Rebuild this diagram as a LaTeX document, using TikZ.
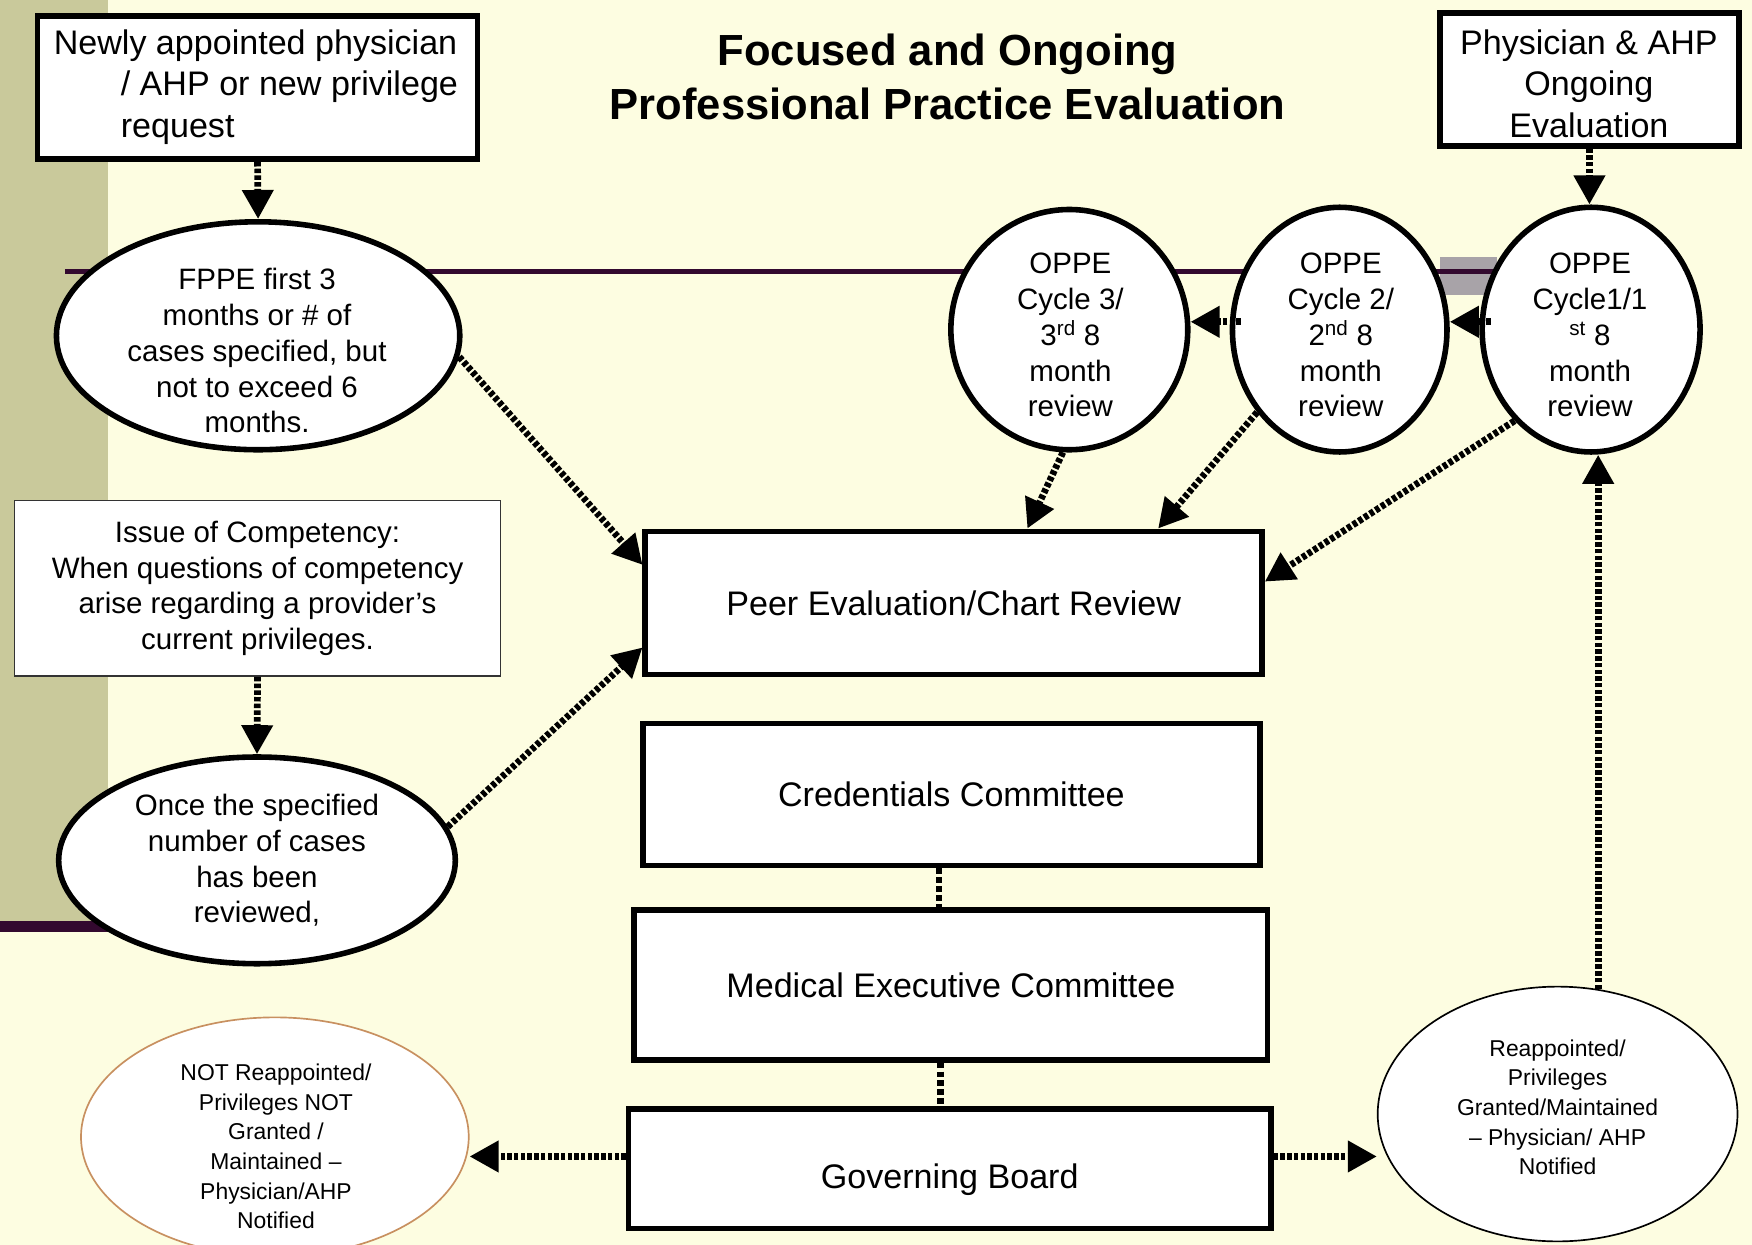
\documentclass[tikz,border=0pt]{standalone}
\usepackage{fontspec}
\setmainfont{Liberation Sans}
\usetikzlibrary{arrows.meta,shapes.geometric}
\definecolor{bgcream}{HTML}{FDFDE1}
\definecolor{olivestrip}{HTML}{C9C99B}
\definecolor{purpline}{HTML}{33092F}
\definecolor{greybar}{HTML}{A8A3A8}
\definecolor{orangeline}{HTML}{C89060}
\newcommand{\fsz}[2]{\fontsize{#1}{#2}\selectfont}
\begin{document}
\begin{tikzpicture}[x=1pt,y=-1pt,
  bbox/.style={rectangle,draw=black,line width=5pt,fill=white,inner sep=0pt},
  thinbox/.style={rectangle,draw=black!80,line width=1.6pt,fill=white,inner sep=0pt},
  bell/.style={ellipse,draw=black,line width=5pt,fill=white,inner sep=0pt},
  txt/.style={align=center,inner sep=0pt},
  fa/.style={font=\fsz{26.4}{32}},
  fb/.style={font=\fsz{30.5}{37}},
  fc/.style={font=\fsz{20.5}{26.5}},
  dotarrow/.style={line width=6pt,dash pattern=on 4pt off 2pt,-{Triangle[length=26pt,width=27pt]}},
  dotlink/.style={line width=6pt,dash pattern=on 5pt off 3pt}
]
\useasboundingbox (0,0) rectangle (1568,1114);
\fill[bgcream] (0,0) rectangle (1568,1114);
\fill[olivestrip] (0,0) rectangle (97,826);
\fill[purpline] (0,824) rectangle (235,834);
\fill[greybar] (1289,230) rectangle (1340,264);
\draw[purpline,line width=5pt] (58,243) -- (1340,243);

% title
\node[txt,font=\bfseries\fsz{39}{48}] (title) at (848,69) {Focused and Ongoing\\Professional Practice Evaluation};

% top-left box
\node[bbox,minimum width=394pt,minimum height=128pt] (newreq) at (230.5,78.5) {};
\node[txt,fb,align=left] (newreqt) at (229,78) {Newly appointed physician\\\hspace*{60pt}/ AHP or new privilege\\\hspace*{60pt}request};

% top-right box
\node[bbox,minimum width=268pt,minimum height=119pt] (ongo) at (1422.5,71) {};
\node[txt,fb] (ongot) at (1422,75) {Physician \& AHP\\Ongoing\\Evaluation};

% FPPE ellipse
\node[bell,minimum width=361pt,minimum height=204pt] (fppe) at (231,300.5) {};
\node[txt,fa] (fppet) at (230,314) {FPPE first 3\\months or \# of\\cases specified, but\\not to exceed 6\\months.};

% issue box
\node[thinbox,txt,fa,minimum width=435pt,minimum height=157pt] (issue) at (230.5,526.5) {Issue of Competency:\\When questions of competency\\arise regarding a provider's\\current privileges.};

% once ellipse
\node[bell,txt,fa,minimum width=355pt,minimum height=185pt] (once) at (230,770) {Once the specified\\number of cases\\has been\\reviewed,};

% OPPE circles
\node[bell,minimum width=212pt,minimum height=215pt] (c3) at (957,295) {};
\node[txt,fa] (c3t) at (958,300) {OPPE\\Cycle 3/\\3\textsuperscript{rd} 8\\month\\review};
\node[bell,minimum width=192pt,minimum height=219pt] (c2) at (1199,295) {};
\node[txt,fa] (c2t) at (1200,300) {OPPE\\Cycle 2/\\2\textsuperscript{nd} 8\\month\\review};
\node[bell,minimum width=195pt,minimum height=219pt] (c1) at (1424,295) {};
\node[txt,fa] (c1t) at (1423,300) {OPPE\\Cycle1/1\\\textsuperscript{st} 8\\month\\review};

% central column
\node[bbox,txt,fb,minimum width=552pt,minimum height=128pt] (peer) at (853.5,539.5) {Peer Evaluation/Chart Review};
\node[bbox,txt,fb,minimum width=552pt,minimum height=127pt] (cred) at (851.5,711) {Credentials Committee};
\node[bbox,txt,fb,minimum width=567pt,minimum height=134pt] (mec) at (851,881.5) {Medical Executive Committee};
\node[bbox,minimum width=575pt,minimum height=107pt] (gov) at (850,1046) {};
\node[txt,fb] (govt) at (850,1056) {Governing Board};

% outcome ellipses
\node[ellipse,draw=orangeline,line width=1.5pt,fill=white,inner sep=0pt,minimum width=347pt,minimum height=214pt] (notre) at (246,1017.5) {};
\node[txt,fc] (notret) at (247,1026) {NOT Reappointed/\\Privileges NOT\\Granted /\\Maintained \textendash\\Physician/AHP\\Notified};
\node[ellipse,draw=black,line width=1.5pt,fill=white,inner sep=0pt,minimum width=322pt,minimum height=228pt] (reap) at (1394,997) {};
\node[txt,fc] (reapt) at (1394,991) {Reappointed/\\Privileges\\Granted/Maintained\\\textendash{} Physician/ AHP\\Notified};

% connectors
\draw[dotarrow] (newreq.south) -- (fppe.north);
\draw[dotarrow] (ongo.south) -- (ongo.south |- c1.north);
\draw[dotarrow] (issue.south) -- (once.north);
\draw[dotarrow] ([yshift=7pt,xshift=10pt]c2.west) -- ([yshift=7pt]c3.east);
\draw[dotarrow] ([yshift=7pt,xshift=10pt]c1.west) -- ([yshift=7pt]c2.east);
\draw[dotarrow] (fppe.-6) -- ([yshift=34pt]peer.west);
\draw[dotarrow] (once.10) -- ([yshift=-40pt]peer.west);
\draw[dotarrow] (c3.-93) -- ([xshift=66pt]peer.north);
\draw[dotarrow] (c2.-135) -- ([xshift=183pt]peer.north);
\draw[dotarrow] (c1.-130) -- ([yshift=19pt]peer.east);
\coordinate (credB) at ([xshift=-11pt]cred.south);
\coordinate (mecB) at ([xshift=-9pt]mec.south);
\draw[dotlink] (credB) -- (credB |- mec.north);
\draw[dotlink] (mecB) -- (mecB |- gov.north);
\coordinate (govL) at ([yshift=11pt]gov.west);
\coordinate (govR) at ([yshift=11pt]gov.east);
\draw[dotarrow] (govL) -- (govL -| notre.east);
\draw[dotarrow] (govR) -- (govR -| reap.west);
\coordinate (reapTop) at (reap.72);
\draw[dotarrow] (reapTop) -- (reapTop |- c1.south);
\end{tikzpicture}
\end{document}
